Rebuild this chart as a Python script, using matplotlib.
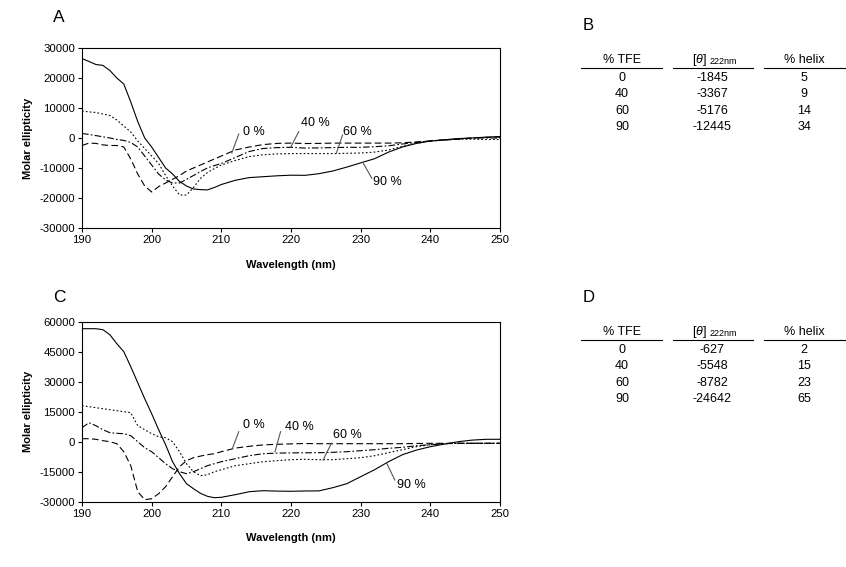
import numpy as np
import matplotlib.pyplot as plt
from matplotlib.lines import Line2D

plt.rcParams['font.family'] = ['Liberation Sans', 'DejaVu Sans']
plt.rcParams['axes.unicode_minus'] = False
plt.rcParams['mathtext.fontset'] = 'custom'
plt.rcParams['mathtext.it'] = 'Liberation Sans:italic'

# Wavelength grid (nm)
wl = [190, 191, 192, 193, 194, 195, 196, 197, 198, 199, 200, 201, 202, 203, 204,
      205, 206, 207, 208, 209, 210, 212, 214, 216, 218, 220, 222, 224, 226, 228,
      230, 232, 234, 236, 238, 240, 242, 244, 246, 248, 250]

# Panel A - molar ellipticity for each % TFE
a_0 = [-2500, -1700, -1800, -2300, -2500, -2500, -3000, -7000, -12000, -16000, -18000,
       -16200, -15000, -13800, -12500, -11000, -10000, -9000, -8000, -7000, -6000,
       -4000, -3000, -2200, -1800, -1700, -1845, -1800, -1700, -1700, -1700, -1700,
       -1700, -1600, -1300, -1000, -700, -400, 0, 200, 300]
a_40 = [1500, 1200, 800, 400, 0, -500, -800, -1500, -3000, -6000, -9000, -12000, -14000,
        -15000, -15000, -13800, -12500, -11200, -10000, -9200, -8500, -6500, -4500,
        -3500, -3200, -3100, -3367, -3300, -3200, -3100, -3100, -2900, -2600, -2000,
        -1500, -1000, -600, -300, 0, 0, 0]
a_60 = [9000, 8700, 8500, 8000, 7500, 6000, 4000, 2000, -1000, -3500, -6000, -8500,
        -12500, -16000, -19000, -19000, -16500, -13500, -11500, -10200, -9000, -7500,
        -6200, -5600, -5300, -5200, -5176, -5200, -5200, -5100, -5000, -4700, -4000,
        -2800, -1800, -1000, -600, -400, -400, -500, -500]
a_90 = [26500, 25500, 24500, 24200, 22500, 20000, 18000, 12000, 5500, 0, -3000, -6500,
        -10000, -12000, -14500, -16000, -17000, -17200, -17300, -16500, -15500, -14100,
        -13200, -12900, -12600, -12400, -12445, -11900, -11000, -9700, -8300, -6900,
        -4700, -3000, -1800, -1000, -600, -200, 0, 300, 500]

# Panel C
c_0 = [1500, 1500, 1200, 500, 0, -1000, -5000, -12000, -25000, -29000, -28500, -26000,
       -22500, -17500, -12500, -9500, -8000, -7200, -6500, -6000, -5000, -3200, -2300,
       -1600, -1300, -1100, -900, -1000, -1000, -1000, -1000, -1000, -1000, -1000,
       -900, -800, -800, -800, -800, -800, -800]
c_40 = [7000, 9500, 8000, 6000, 4500, 4200, 4000, 3000, 0, -3000, -5000, -8000, -11000,
        -13500, -15000, -16000, -15000, -13500, -12000, -11000, -10000, -8500, -7000,
        -6000, -5700, -5600, -5548, -5500, -5300, -5000, -4500, -4000, -3300, -2800,
        -2000, -1500, -1000, -800, -800, -800, -800]
c_60 = [18000, 17500, 17000, 16500, 16000, 15500, 15000, 14500, 8000, 6000, 4000, 2500,
        2000, 0, -5000, -11000, -15000, -17000, -16500, -15000, -14000, -12000, -11000,
        -10000, -9500, -9000, -8782, -9000, -9000, -8500, -8000, -7000, -5500, -4000,
        -2500, -1500, -1000, -800, -800, -800, -800]
c_90 = [56500, 56500, 56500, 56000, 53500, 49000, 45000, 37500, 29500, 21500, 14000,
        6000, -1500, -10000, -16000, -21000, -23500, -25800, -27300, -28000, -27800,
        -26500, -25000, -24500, -24700, -24800, -24642, -24600, -23000, -21000, -17500,
        -14000, -10000, -6500, -4200, -2500, -1200, 0, 800, 1200, 1200]

# Tables B and D
tfe = ['0', '40', '60', '90']
theta_b = ['-1845', '-3367', '-5176', '-12445']
helix_b = ['5', '9', '14', '34']
theta_d = ['-627', '-5548', '-8782', '-24642']
helix_d = ['2', '15', '23', '65']

styles = {'0': (0, (6, 3)), '40': (0, (6, 2, 1.5, 2)), '60': (0, (1.5, 2)), '90': '-'}

fig = plt.figure(figsize=(8.46, 5.67), dpi=100)
W, H = 846, 567


def px_axes(x0, y0, x1, y1):
    return fig.add_axes([x0 / W, 1 - y1 / H, (x1 - x0) / W, (y1 - y0) / H])


def draw_panel(ax, series, yticks, labels, xlab_y):
    for key, vals in series:
        ax.plot(wl, vals, color='black', lw=0.8, linestyle=styles[key])
    ax.set_xlim(190, 250)
    ax.set_ylim(yticks[0], yticks[-1])
    ax.set_xticks(np.arange(190, 251, 10))
    ax.set_yticks(yticks)
    ax.tick_params(direction='out', length=3, width=0.8, labelsize=8.2, pad=2)
    for s in ax.spines.values():
        s.set_linewidth(0.8)
    ax.set_xlabel('Wavelength (nm)', fontsize=8, fontweight='bold')
    ax.set_ylabel('Molar ellipticity', fontsize=8, fontweight='bold')
    ax.xaxis.set_label_coords(0.5, xlab_y)
    ax.yaxis.set_label_coords(-0.118, 0.5)
    for text, (tx, ty), (l0x, l0y), (l1x, l1y) in labels:
        ax.text(tx, ty, text, fontsize=9, ha='left', va='center')
        ax.plot([l0x, l1x], [l0y, l1y], color='#555555', lw=0.8)


axA = px_axes(82, 48, 500, 228)
draw_panel(axA, [('0', a_0), ('40', a_40), ('60', a_60), ('90', a_90)],
           np.arange(-30000, 30001, 10000),
           [('0 %', (213.1, 2000), (212.5, 1300), (211.5, -5000)),
            ('40 %', (221.4, 4900), (221.1, 2100), (220.0, -2900)),
            ('60 %', (227.5, 2100), (227.4, 1000), (226.5, -5100)),
            ('90 %', (231.7, -14600), (231.6, -13400), (230.3, -8100))],
           -0.175)

axC = px_axes(82, 321.7, 500, 501.7)
draw_panel(axC, [('0', c_0), ('40', c_40), ('60', c_60), ('90', c_90)],
           np.arange(-30000, 60001, 15000),
           [('0 %', (213.1, 8350), (212.5, 5000), (211.6, -3300)),
            ('40 %', (219.1, 7200), (218.5, 5000), (217.7, -5000)),
            ('60 %', (226.0, 3350), (225.8, -800), (224.6, -9150)),
            ('90 %', (235.2, -21650), (234.9, -19150), (233.7, -10500))],
           -0.175)

fig.text(53 / W, 1 - 18 / H, 'A', fontsize=12.5, ha='left', va='center')
fig.text(53 / W, 1 - 298 / H, 'C', fontsize=12.5, ha='left', va='center')


def draw_table(label, top, theta, helix):
    fig.text(583 / W, 1 - (top - 34) / H, label, fontsize=12, ha='left', va='center')
    fig.text(622 / W, 1 - top / H, '% TFE', fontsize=9, ha='center', va='center')
    fig.text(707 / W, 1 - top / H, r'[$\theta$]', fontsize=9, ha='right', va='center')
    fig.text(710 / W, 1 - (top + 2) / H, '222nm', fontsize=6.5, ha='left', va='center')
    fig.text(804 / W, 1 - top / H, '% helix', fontsize=9, ha='center', va='center')
    for x0, x1 in [(581, 662), (673, 753), (764, 845)]:
        fig.add_artist(Line2D([x0 / W, x1 / W], [1 - (top + 8) / H] * 2,
                              color='black', lw=0.8))
    for i in range(len(tfe)):
        y = 1 - (top + 18 + 16.3 * i) / H
        fig.text(622 / W, y, tfe[i], fontsize=9, ha='center', va='center')
        fig.text(712 / W, y, theta[i], fontsize=9, ha='center', va='center')
        fig.text(804 / W, y, helix[i], fontsize=9, ha='center', va='center')


draw_table('B', 60, theta_b, helix_b)
draw_table('D', 332, theta_d, helix_d)

fig.savefig('out.png', dpi=100)
